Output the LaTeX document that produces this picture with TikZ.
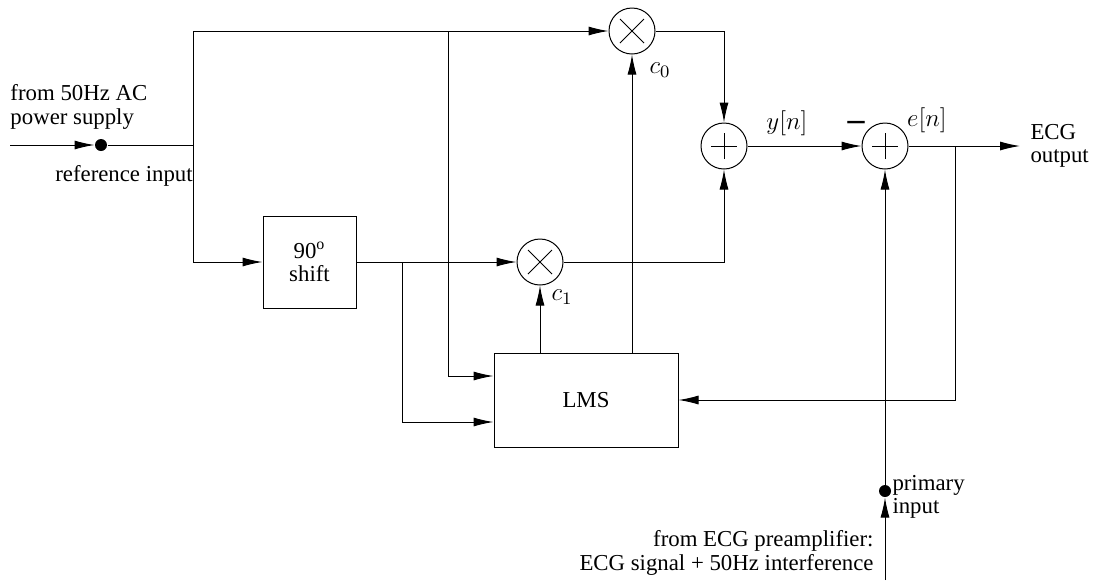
\documentclass[tikz,border=0pt]{standalone}
\usepackage{fix-cm}
\usepackage{amsmath}
\usepackage{fontspec}
\setmainfont{Liberation Serif}
\usetikzlibrary{arrows.meta,calc}
\begin{document}
\begin{tikzpicture}[x=0.5pt,y=-0.5pt,
  line width=0.5pt,
  every node/.style={font=\fontsize{11.4}{11.6}\selectfont},
  mathl/.style={inner sep=1pt,font=\fontsize{12.5}{14}\selectfont},
  arr/.style={-{Latex[length=10pt,width=4.5pt]}},
  mult/.style={circle,draw,minimum size=23pt,inner sep=0pt,
    path picture={\draw ([shift={(-6pt,-6pt)}]path picture bounding box.center) -- ([shift={(6pt,6pt)}]path picture bounding box.center);
                  \draw ([shift={(-6pt,6pt)}]path picture bounding box.center) -- ([shift={(6pt,-6pt)}]path picture bounding box.center);}},
  summ/.style={circle,draw,minimum size=23pt,inner sep=0pt,
    path picture={\draw ([xshift=-6.5pt]path picture bounding box.center) -- ([xshift=6.5pt]path picture bounding box.center);
                  \draw ([yshift=-6.5pt]path picture bounding box.center) -- ([yshift=6.5pt]path picture bounding box.center);}},
  blk/.style={draw,align=center,inner sep=0pt},
  dotn/.style={circle,fill,minimum size=6pt,inner sep=0pt},
  lbl/.style={inner sep=1pt}]
\useasboundingbox (0,0) rectangle (1099,580);

% nodes
\node[mult] (m0) at (632,31) {};
\node[mult] (m1) at (540,262) {};
\node[summ] (s0) at (724,146) {};
\node[summ] (s1) at (885,146) {};
\node[blk,minimum width=46.5pt,minimum height=46pt] (sh) at (309.5,262) {90\textsuperscript{o}\\shift};
\node[blk,minimum width=92pt,minimum height=47pt] (lms) at (586,400) {LMS};
\node[dotn] (ref) at (101,145) {};
\node[dotn] (prim) at (885,491) {};

% coordinates
\coordinate (inL) at (10,145);
\coordinate (jt) at (193,31);
\coordinate (j1) at (193,145);
\coordinate (b1) at (448,31);
\coordinate (b2) at (402,262);
\coordinate (en) at (955,146);
\coordinate (pb) at (885,580);

% texts
\node[lbl,anchor=west,align=left] (t1) at (8,107) {from 50Hz AC\\power supply};
\node[lbl] (t2) at (124,176) {reference input};
\node[lbl,anchor=west,inner xsep=5pt,align=left] (out) at (1020,146) {ECG\\output};
\node[lbl,anchor=west,align=left] (t3) at (890,497) {primary\\input};
\node[lbl,anchor=east,align=right] (t4) at (876,553) {from ECG preamplifier:\\ECG signal + 50Hz interference};
\node[mathl] (c0) at (660,70) {$c_0$};
\node[mathl] (c1) at (562,297) {$c_1$};
\node[mathl] (yl) at (787,123) {$y[n]$};
\node[mathl] (el) at (927,120) {$e[n]$};
\node[lbl,font=\fontsize{17}{17}\selectfont\bfseries] (mn) at (856,126) {–};

% connectors
\draw[arr] (inL) -- (ref);
\draw[arr] (ref) -| (jt) -- (m0);
\draw[arr] (j1) |- (sh.west);
\draw[arr] (b1) |- ([yshift=12pt]lms.west);
\draw[arr] (sh.east) -- (m1);
\draw[arr] (b2) |- ([yshift=-11pt]lms.west);
\draw[arr] (m1 |- lms.north) -- (m1);
\draw[arr] (m0 |- lms.north) -- (m0);
\draw[arr] (m0) -| (s0);
\draw[arr] (m1) -| (s0);
\draw[arr] (s0) -- (s1);
\draw[arr] (s1) -- (out);
\draw[arr] (en) |- (lms.east);
\draw[arr] (pb) -- (prim);
\draw[arr] (prim) -- (s1);
\end{tikzpicture}
\end{document}
